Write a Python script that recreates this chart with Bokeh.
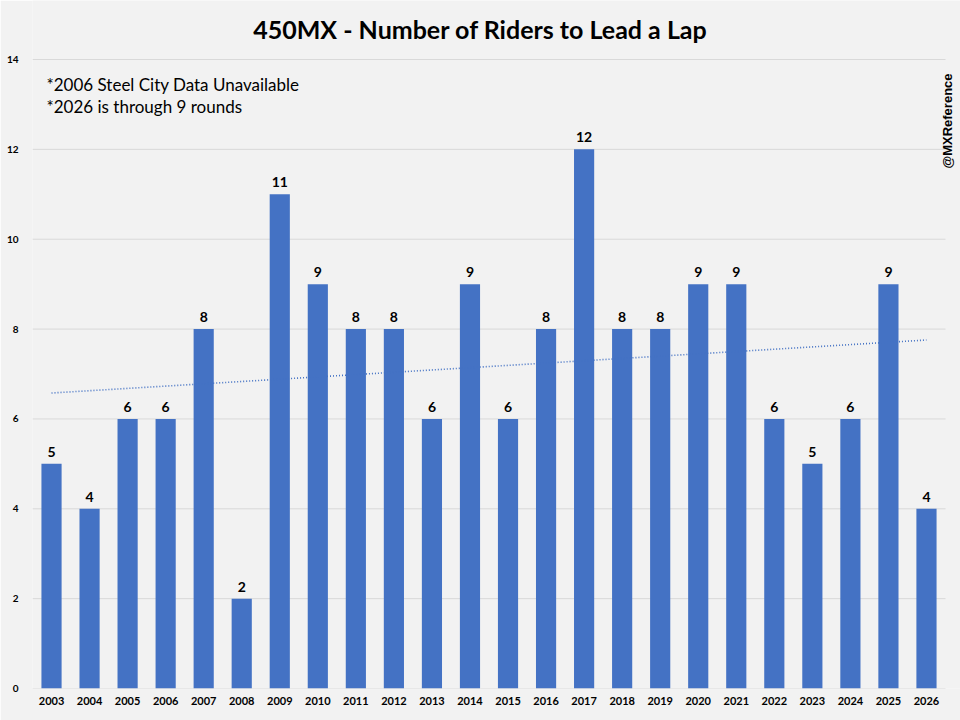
import numpy as np
from bokeh.plotting import figure
from bokeh.models import ColumnDataSource, Label, FixedTicker, Range1d
from bokeh.core.properties import value
from bokeh.embed import file_html
from bokeh.resources import INLINE

years = ["2003", "2004", "2005", "2006", "2007", "2008", "2009", "2010", "2011", "2012",
         "2013", "2014", "2015", "2016", "2017", "2018", "2019", "2020", "2021", "2022",
         "2023", "2024", "2025", "2026"]
riders = [5, 4, 6, 6, 8, 2, 11, 9, 8, 8, 6, 9, 6, 8, 12, 8, 8, 9, 9, 6, 5, 6, 9, 4]
y_ticks = [0, 2, 4, 6, 8, 10, 12, 14]
title_text = "450MX - Number of Riders to Lead a Lap"
notes = ["*2006 Steel City Data Unavailable", "*2026 is through 9 rounds"]
credit = "@MXReference"

BLUE = "#4472C4"
BG = "#F2F2F2"
FONT = "Lato"

n = len(years)
idx = list(range(n))
slope, intercept = np.polyfit(idx, np.array(riders, dtype=float), 1)
trend = [float(intercept + slope * i) for i in idx]

src = ColumnDataSource(dict(x=idx, riders=riders, lab=[str(v) for v in riders], trend=trend))

# plot frame spans the whole canvas except the axis strips; the category area ends
# 15px before the right edge, the value area (0..14) ends 59px below the top edge
W, H = 960, 720
left, bottom, right_gap, top_gap = 32, 32, 15, 59
plot_w = W - left - right_gap
plot_h = H - bottom - top_gap
x_end = n - 0.5 + (right_gap / plot_w) * n
y_end = y_ticks[-1] * (H - bottom) / plot_h

p = figure(width=W, height=H, x_range=Range1d(-0.5, x_end), y_range=Range1d(0, y_end),
           output_backend="svg", toolbar_location=None,
           min_border_left=left, min_border_right=0, min_border_top=0, min_border_bottom=bottom)

p.background_fill_color = BG
p.border_fill_color = BG
p.outline_line_color = None

p.xgrid.grid_line_color = None
p.ygrid.grid_line_color = None
p.segment(x0=-0.5, x1=n - 0.5, y0=y_ticks, y1=y_ticks, line_color="#D9D9D9", line_width=1)

p.vbar(x="x", top="riders", width=0.53, source=src, color=BLUE, line_color=None)
p.line(x="x", y="trend", source=src, color=BLUE, line_width=1.6, line_dash="1 2")
p.text(x="x", y="riders", text="lab", source=src, y_offset=-7,
       text_align="center", text_baseline="bottom",
       text_font=value(FONT), text_font_size="14px", text_font_style="bold", text_color="#000000")

p.xaxis.ticker = FixedTicker(ticks=idx)
p.xaxis.major_label_overrides = {i: y for i, y in zip(idx, years)}
p.yaxis.ticker = FixedTicker(ticks=y_ticks)

for ax in (p.xaxis[0], p.yaxis[0]):
    ax.axis_line_color = None
    ax.major_tick_line_color = None
    ax.minor_tick_line_color = None
    ax.major_label_text_font = FONT
    ax.major_label_text_font_style = "bold"
    ax.major_label_text_color = "#000000"
p.xaxis.major_label_text_font_size = "11px"
p.yaxis.major_label_text_font_size = "10px"
p.xaxis.major_label_standoff = 2
p.yaxis.major_label_standoff = 8

p.add_layout(Label(x=W / 2 - left, y=H - bottom - 28, x_units="screen", y_units="screen",
                   text=title_text, text_font=FONT, text_font_size="25px", text_font_style="bold",
                   text_color="#000000", text_align="center", text_baseline="middle"))
p.add_layout(Label(x=14, y=604, x_units="screen", y_units="screen", text=notes[0],
                   text_font=FONT, text_font_size="17px", text_color="#000000", text_baseline="middle"))
p.add_layout(Label(x=14, y=582, x_units="screen", y_units="screen", text=notes[1],
                   text_font=FONT, text_font_size="17px", text_color="#000000", text_baseline="middle"))
p.add_layout(Label(x=915, y=520, x_units="screen", y_units="screen", text=credit, angle=np.pi / 2,
                   text_font="Liberation Sans", text_font_size="13px", text_font_style="bold",
                   text_color="#000000", text_align="left", text_baseline="middle"))

open("out.html", "w").write(file_html(p, INLINE))
